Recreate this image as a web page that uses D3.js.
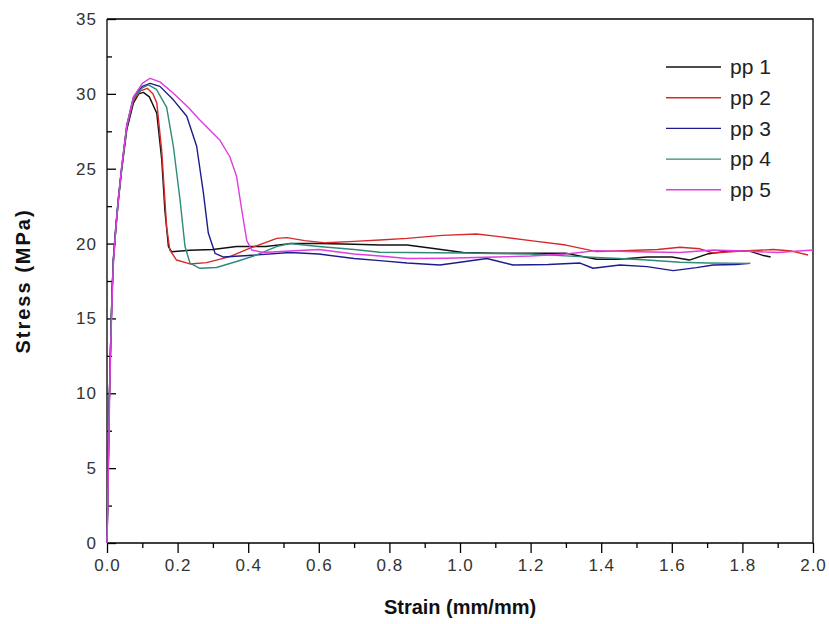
<!DOCTYPE html>
<html lang="en">

<head>
	<meta charset="utf-8">
	<title>Stress - strain</title>
	<style>
		body {
			margin: 0;
			background: #fff;
			font-family: "Liberation Sans", Arial, sans-serif;
		}

		.axis path,
		.axis line {
			stroke: #000;
			stroke-width: 1.3px;
		}

		.axis text {
			fill: #333;
		}

		.curve {
			fill: none;
			stroke-width: 1.4px;
			stroke-linejoin: round;
		}
	</style>
</head>

<body>
	<svg></svg>

	<script src="https://d3js.org/d3.v7.min.js"></script>
	<script>
		// series names + colours
		var seriesNames = ["pp 1", "pp 2", "pp 3", "pp 4", "pp 5"];
		var seriesColors = ["#111111", "#d62a2a", "#1c1c8c", "#2e8b7a", "#e03ce0"];

		// pp 1
		var pp1Strain = [0, 0.003, 0.006, 0.010, 0.014, 0.018, 0.025, 0.032, 0.041, 0.056, 0.075, 0.090, 0.103, 0.120, 0.141, 0.155, 0.164, 0.174, 0.183, 0.235, 0.300, 0.367, 0.450, 0.518, 0.600, 0.700, 0.773, 0.850, 0.915, 1.009, 1.100, 1.200, 1.300, 1.387, 1.450, 1.530, 1.600, 1.650, 1.700, 1.760, 1.820, 1.860, 1.880];
		var pp1Stress = [0, 4, 9, 13, 16.5, 18.8, 21, 22.8, 24.8, 27.6, 29.4, 30.0, 30.1, 29.8, 28.7, 25.6, 22.2, 19.8, 19.45, 19.55, 19.6, 19.8, 19.8, 20.0, 20.0, 19.95, 19.9, 19.9, 19.7, 19.4, 19.35, 19.35, 19.35, 18.95, 18.95, 19.1, 19.1, 18.9, 19.3, 19.5, 19.5, 19.2, 19.1];

		// pp 2
		var pp2Strain = [0, 0.003, 0.006, 0.010, 0.014, 0.018, 0.025, 0.032, 0.041, 0.056, 0.075, 0.095, 0.114, 0.130, 0.141, 0.155, 0.169, 0.178, 0.197, 0.235, 0.282, 0.348, 0.405, 0.481, 0.510, 0.560, 0.620, 0.700, 0.773, 0.850, 0.950, 1.047, 1.100, 1.200, 1.300, 1.387, 1.500, 1.560, 1.623, 1.680, 1.717, 1.800, 1.887, 1.940, 1.986];
		var pp2Stress = [0, 4, 9, 13, 16.5, 18.9, 21, 22.9, 24.9, 27.8, 29.6, 30.2, 30.37, 30.0, 29.4, 26.2, 21.1, 19.57, 18.9, 18.64, 18.73, 19.13, 19.69, 20.35, 20.4, 20.2, 20.05, 20.15, 20.24, 20.35, 20.55, 20.64, 20.5, 20.2, 19.9, 19.46, 19.55, 19.6, 19.75, 19.65, 19.37, 19.5, 19.6, 19.5, 19.24];

		// pp 3
		var pp3Strain = [0, 0.003, 0.006, 0.010, 0.014, 0.018, 0.025, 0.032, 0.041, 0.056, 0.075, 0.100, 0.122, 0.150, 0.188, 0.226, 0.254, 0.273, 0.287, 0.306, 0.330, 0.400, 0.518, 0.600, 0.700, 0.773, 0.850, 0.943, 1.000, 1.076, 1.150, 1.250, 1.340, 1.377, 1.453, 1.530, 1.604, 1.670, 1.717, 1.780, 1.822];
		var pp3Stress = [0, 4.5, 9, 13, 16.5, 19, 21.2, 23, 25, 27.9, 29.8, 30.5, 30.7, 30.5, 29.6, 28.5, 26.5, 23.4, 20.7, 19.35, 19.1, 19.2, 19.4, 19.3, 19.0, 18.86, 18.7, 18.57, 18.75, 19.0, 18.57, 18.6, 18.7, 18.35, 18.57, 18.46, 18.19, 18.39, 18.57, 18.6, 18.68];

		// pp 4
		var pp4Strain = [0, 0.003, 0.006, 0.010, 0.014, 0.018, 0.025, 0.032, 0.041, 0.056, 0.075, 0.100, 0.117, 0.140, 0.169, 0.188, 0.207, 0.221, 0.235, 0.263, 0.310, 0.367, 0.424, 0.480, 0.518, 0.600, 0.700, 0.773, 0.850, 1.009, 1.200, 1.340, 1.450, 1.530, 1.623, 1.700, 1.822];
		var pp4Stress = [0, 4, 9, 13, 16.5, 18.9, 21, 22.9, 24.9, 27.8, 29.7, 30.4, 30.6, 30.3, 29.1, 26.5, 22.9, 19.8, 18.7, 18.35, 18.4, 18.8, 19.24, 19.8, 20.0, 19.8, 19.6, 19.42, 19.4, 19.37, 19.3, 19.13, 19.0, 18.9, 18.75, 18.7, 18.68];

		// pp 5
		var pp5Strain = [0, 0.003, 0.006, 0.010, 0.014, 0.018, 0.025, 0.032, 0.041, 0.056, 0.075, 0.100, 0.122, 0.150, 0.188, 0.230, 0.263, 0.320, 0.348, 0.367, 0.382, 0.396, 0.410, 0.443, 0.518, 0.600, 0.700, 0.773, 0.850, 0.960, 1.100, 1.200, 1.300, 1.387, 1.500, 1.623, 1.717, 1.800, 1.900, 2.000];
		var pp5Stress = [0, 3.5, 8, 12.5, 16, 18.6, 21, 22.9, 25, 27.9, 29.8, 30.7, 31.04, 30.8, 30.04, 29.1, 28.26, 26.9, 25.8, 24.5, 22.2, 20.2, 19.57, 19.4, 19.5, 19.6, 19.3, 19.17, 19.0, 19.02, 19.1, 19.17, 19.3, 19.53, 19.45, 19.4, 19.57, 19.5, 19.4, 19.57];

		var xTicks = [0, 0.2, 0.4, 0.6, 0.8, 1.0, 1.2, 1.4, 1.6, 1.8, 2.0];
		var yTicks = [0, 5, 10, 15, 20, 25, 30, 35];

		(function() {

			var width = 829,
				height = 624;

			var margin = { top: 19, right: 16, bottom: 81, left: 107 };
			var w = width - margin.left - margin.right,
				h = height - margin.top - margin.bottom;

			var svg = d3.select("svg")
				.attr("width", width)
				.attr("height", height);

			var g = svg.append("g")
				.attr("transform", "translate(" + margin.left + "," + margin.top + ")");

			var x = d3.scaleLinear().domain([0, 2]).range([0, w]);
			var y = d3.scaleLinear().domain([0, 35]).range([h, 0]);

			// build the series table
			var strains = [pp1Strain, pp2Strain, pp3Strain, pp4Strain, pp5Strain];
			var stresses = [pp1Stress, pp2Stress, pp3Stress, pp4Stress, pp5Stress];
			var series = seriesNames.map(function(name, i) {
				return {
					name: name,
					color: seriesColors[i],
					values: strains[i].map(function(s, j) {
						return { x: s, y: stresses[i][j] };
					})
				};
			});

			// minor ticks first
			g.append("g")
				.attr("class", "axis")
				.attr("transform", "translate(0," + h + ")")
				.call(d3.axisBottom(x).tickValues(d3.range(0.1, 2, 0.2)).tickSize(5).tickFormat(""))
				.select(".domain").remove();

			g.append("g")
				.attr("class", "axis")
				.call(d3.axisRight(y).tickValues(d3.range(2.5, 35, 5)).tickSize(5).tickFormat(""))
				.select(".domain").remove();

			// x axis
			var xAxis = g.append("g")
				.attr("class", "axis")
				.attr("transform", "translate(0," + h + ")")
				.call(d3.axisBottom(x).tickValues(xTicks).tickSize(10).tickPadding(6).tickFormat(d3.format(".1f")));
			xAxis.select(".domain").attr("d", "M0,0H" + w);
			xAxis.selectAll("text")
				.style("font-size", "17px")
				.style("letter-spacing", "1px");

			// y axis, ticks point inwards
			var yAxis = g.append("g")
				.attr("class", "axis")
				.call(d3.axisRight(y).tickValues(yTicks).tickSize(9).tickFormat(d3.format("d")));
			yAxis.select(".domain").attr("d", "M0,0V" + h);
			yAxis.selectAll("text")
				.attr("x", -10)
				.style("text-anchor", "end")
				.style("font-size", "17px")
				.style("letter-spacing", "1px");

			// top + right frame
			g.append("path")
				.attr("d", "M0,0H" + w + "V" + h)
				.attr("fill", "none")
				.attr("stroke", "#000")
				.attr("stroke-width", 1.3);

			var line = d3.line()
				.x(function(d) { return x(d.x); })
				.y(function(d) { return y(d.y); });

			g.selectAll(".curve")
				.data(series)
				.enter().append("path")
				.attr("class", "curve")
				.attr("stroke", function(d) { return d.color; })
				.attr("d", function(d) { return line(d.values); });

			// legend
			var legend = g.selectAll(".legend")
				.data(series)
				.enter().append("g")
				.attr("class", "legend")
				.attr("transform", function(d, i) {
					return "translate(559," + (48 + i * 30.7) + ")";
				});

			legend.append("line")
				.attr("x1", 0)
				.attr("x2", 55)
				.attr("stroke", function(d) { return d.color; })
				.attr("stroke-width", 1.4);

			legend.append("text")
				.attr("x", 64)
				.attr("dy", "0.35em")
				.style("font-size", "21px")
				.style("fill", "#222")
				.text(function(d) { return d.name; });

			// axis titles
			svg.append("text")
				.attr("x", margin.left + w / 2)
				.attr("y", 614)
				.attr("text-anchor", "middle")
				.style("font-size", "20px")
				.style("font-weight", "bold")
				.style("fill", "#111")
				.text("Strain (mm/mm)");

			svg.append("text")
				.attr("transform", "translate(30," + (margin.top + h / 2) + ") rotate(-90)")
				.attr("text-anchor", "middle")
				.style("font-size", "20px")
				.style("font-weight", "bold")
				.style("letter-spacing", "2px")
				.style("fill", "#111")
				.text("Stress (MPa)");

		})();
	</script>
</body>

</html>
